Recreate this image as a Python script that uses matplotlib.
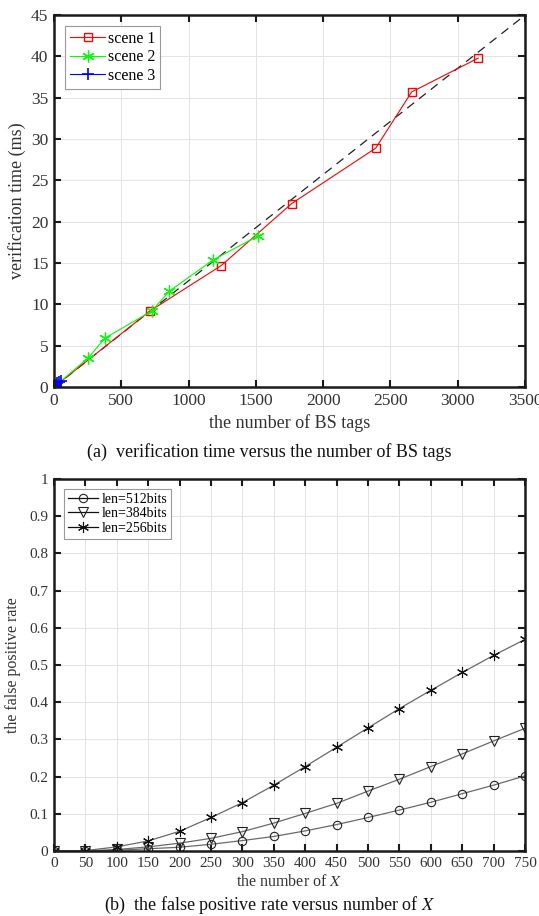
import matplotlib
matplotlib.use("Agg")
import matplotlib.pyplot as plt

plt.rcParams["font.family"] = ["Liberation Serif", "DejaVu Serif"]
plt.rcParams["mathtext.fontset"] = "stix"

# ## Data
#
# (a) verification time (ms) versus number of BS tags

scene1_x = [0, 713, 1243, 1766, 2390, 2657, 3152]
scene1_y = [0, 9.2, 14.7, 22.2, 28.9, 35.7, 39.8]

scene2_x = [0, 256, 377, 726, 857, 1184, 1518]
scene2_y = [0, 3.55, 5.9, 9.2, 11.6, 15.4, 18.3]

scene3_x = [0, 8, 16, 25, 35, 50]
scene3_y = [0.05, 0.15, 0.3, 0.45, 0.6, 0.75]

fit_x = [0, 3500]
fit_y = [0, 45]

# (b) false positive rate versus number of X

num_x = [0, 50, 100, 150, 200, 250, 300, 350, 400, 450, 500, 550, 600, 650, 700, 750]
fpr_512 = [0, 0.0, 0.002, 0.006, 0.010, 0.018, 0.028, 0.039, 0.054, 0.071, 0.090,
           0.110, 0.131, 0.154, 0.177, 0.202]
fpr_384 = [0, 0.0, 0.004, 0.011, 0.021, 0.034, 0.052, 0.075, 0.101, 0.128, 0.161,
           0.193, 0.227, 0.261, 0.296, 0.330]
fpr_256 = [0, 0.001, 0.011, 0.027, 0.053, 0.090, 0.130, 0.177, 0.227, 0.279, 0.331,
           0.383, 0.432, 0.480, 0.526, 0.569]

ticks_a_x = [0, 500, 1000, 1500, 2000, 2500, 3000, 3500]
ticks_a_y = [0, 5, 10, 15, 20, 25, 30, 35, 40, 45]
ticks_b_x = list(range(0, 751, 50))
ticks_b_y = [0, 0.1, 0.2, 0.3, 0.4, 0.5, 0.6, 0.7, 0.8, 0.9, 1]
labels_b_y = ["0", "0.1", "0.2", "0.3", "0.4", "0.5", "0.6", "0.7", "0.8", "0.9", "1"]

asterisk = (6, 2, 0)


def matlab_axes(ax, fontsize):
    for s in ax.spines.values():
        s.set_linewidth(1.8)
        s.set_color("#1a1a1a")
    ax.tick_params(direction="in", top=True, right=True, length=5, width=1.5,
                   labelsize=fontsize, colors="#1a1a1a", labelcolor="#333333", pad=4)
    ax.grid(True, color="#e3e3e3", linewidth=0.7)
    ax.set_axisbelow(True)


fig = plt.figure(figsize=(5.39, 9.16), dpi=100)

# ## Top panel

ax1 = fig.add_axes([0.1002, 0.5775, 0.874, 0.406])
ax1.plot(fit_x, fit_y, color="#222222", linestyle=(0, (7, 5)), linewidth=0.9)
ax1.plot(scene1_x, scene1_y, color="#ff0000", marker="s", markersize=6,
         markerfacecolor="none", markeredgewidth=1.0, linewidth=0.8, label="scene 1")
ax1.plot(scene2_x, scene2_y, color="#00ff00", marker=asterisk, markersize=8.5,
         markeredgewidth=0.9, linewidth=0.8, label="scene 2")
ax1.plot(scene3_x, scene3_y, color="#0000ff", marker="+", markersize=9,
         markeredgewidth=1.2, linewidth=0.8, label="scene 3")
ax1.set_xlim(0, 3500)
ax1.set_ylim(0, 45)
ax1.set_xticks(ticks_a_x)
ax1.set_yticks(ticks_a_y)
matlab_axes(ax1, 12.5)
ax1.set_xlabel("the number of BS tags", fontsize=13, color="#333333", labelpad=4)
ax1.set_ylabel("verification time (ms)", fontsize=13, color="#333333", labelpad=4)
leg1 = ax1.legend(loc="upper left", fontsize=11.5, fancybox=False, framealpha=1,
                  edgecolor="#999999", borderpad=0.3, labelspacing=0.15,
                  handlelength=2.2, handletextpad=0.2, borderaxespad=0.7)
leg1.get_frame().set_linewidth(0.8)

fig.text(0.5, 1 - 452 / 916, "(a)  verification time versus the number of BS tags",
         ha="center", va="center", fontsize=13, color="#111111")

# ## Bottom panel

ax2 = fig.add_axes([0.1002, 0.071, 0.874, 0.406])
gray = "#6a6a6a"
ax2.plot(num_x, fpr_512, color=gray, linewidth=0.9, marker="o", markersize=6,
         markerfacecolor="none", markeredgecolor="#222222", markeredgewidth=0.8,
         label="len=512bits")
ax2.plot(num_x, fpr_384, color=gray, linewidth=0.9, marker="v", markersize=7,
         markerfacecolor="none", markeredgecolor="#222222", markeredgewidth=0.8,
         label="len=384bits")
ax2.plot(num_x, fpr_256, color=gray, linewidth=0.9, marker=asterisk, markersize=8,
         markeredgecolor="#111111", markeredgewidth=0.8, label="len=256bits")
ax2.set_xlim(0, 750)
ax2.set_ylim(0, 1)
ax2.set_xticks(ticks_b_x)
ax2.set_yticks(ticks_b_y)
ax2.set_yticklabels(labels_b_y)
matlab_axes(ax2, 11)
ax2.set_xlabel("the number of $X$", fontsize=11.5, color="#333333", labelpad=3)
ax2.set_ylabel("the false positive rate", fontsize=11.5, color="#333333", labelpad=6)
leg2 = ax2.legend(loc="upper left", fontsize=10, fancybox=False, framealpha=1,
                  edgecolor="#999999", borderpad=0.3, labelspacing=0.1,
                  handlelength=2.2, handletextpad=0.2, borderaxespad=0.7)
leg2.get_frame().set_linewidth(0.8)
for h in leg2.legend_handles:
    h.set_color("#111111")

fig.text(0.5, 1 - 905 / 916, "(b)  the false positive rate versus number of $X$",
         ha="center", va="center", fontsize=13, color="#111111")

fig.savefig("out.png", dpi=100)
